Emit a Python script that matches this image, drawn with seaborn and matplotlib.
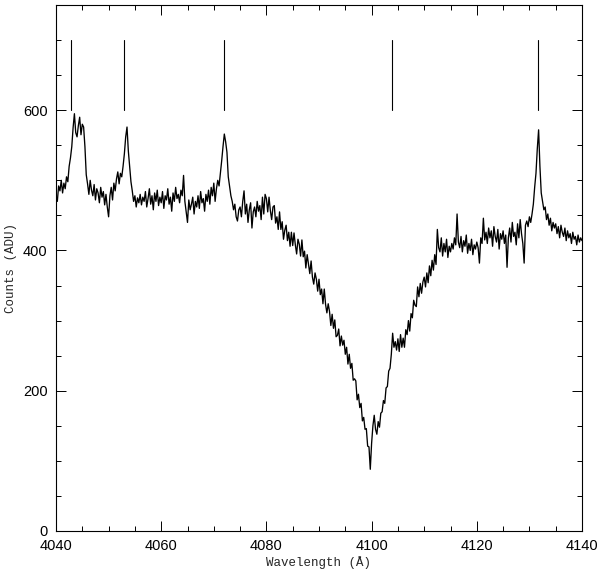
import numpy as np
import pandas as pd
import matplotlib
matplotlib.use("Agg")
import matplotlib.pyplot as plt
import seaborn as sns
from matplotlib.ticker import MultipleLocator

counts = [
    478, 470, 492, 485, 500, 482, 496, 488, 505, 498, 520, 532, 548, 575, 595, 568, 562, 578, 590, 565,
    580, 576, 548, 508, 495, 480, 500, 486, 478, 494, 472, 488, 482, 468, 490, 476, 484, 465, 480, 462,
    448, 478, 490, 472, 496, 485, 502, 512, 495, 510, 505, 520, 538, 562, 576, 542, 520, 498, 485, 470,
    478, 462, 475, 468, 480, 465, 476, 470, 484, 462, 474, 488, 466, 478, 458, 482, 470, 486, 464, 476,
    468, 484, 460, 478, 472, 488, 466, 476, 456, 482, 470, 490, 474, 480, 468, 486, 478, 507, 470, 455,
    440, 472, 458, 466, 476, 452, 470, 462, 478, 460, 484, 468, 474, 456, 480, 470, 486, 466, 490, 478,
    496, 470, 488, 500, 492, 510, 528, 548, 566, 555, 540, 505, 492, 478, 470, 458, 466, 448, 442, 458,
    462, 448, 470, 485, 452, 466, 440, 458, 468, 432, 455, 462, 448, 470, 456, 464, 444, 476, 452, 480,
    474, 455, 476, 457, 444, 462, 464, 439, 448, 430, 455, 430, 441, 416, 429, 436, 414, 426, 406, 426,
    407, 425, 408, 395, 416, 409, 392, 415, 391, 399, 375, 394, 381, 367, 385, 362, 352, 368, 359, 342,
    359, 337, 345, 324, 345, 323, 311, 324, 313, 293, 309, 289, 301, 277, 279, 288, 264, 278, 265, 272,
    252, 262, 238, 252, 232, 239, 215, 217, 214, 187, 195, 176, 182, 157, 162, 145, 146, 121, 120, 88,
    125, 150, 165, 145, 138, 156, 148, 168, 170, 186, 182, 204, 206, 228, 232, 252, 282, 262, 270, 258,
    274, 256, 280, 262, 275, 262, 287, 280, 300, 285, 310, 304, 329, 322, 320, 348, 334, 353, 339, 355,
    362, 348, 368, 354, 378, 364, 386, 372, 394, 380, 430, 404, 398, 418, 392, 410, 398, 416, 390, 406,
    398, 410, 402, 418, 408, 452, 412, 404, 420, 398, 414, 406, 422, 396, 410, 400, 416, 394, 408, 402,
    412, 404, 382, 418, 410, 446, 415, 426, 410, 432, 418, 428, 406, 434, 420, 412, 430, 402, 424, 416,
    428, 410, 422, 376, 418, 432, 412, 440, 420, 426, 408, 438, 418, 444, 424, 410, 382, 436, 442, 434,
    448, 440, 452, 466, 490, 510, 545, 572, 520, 482, 470, 458, 462, 444, 452, 436, 446, 428, 440, 432,
    438, 424, 434, 418, 436, 426, 420, 432, 414, 428, 418, 424, 410, 426, 416, 420, 408, 422, 412, 418,
    414,
]
wl_start, wl_end = 4040.0, 4140.0
wavelength = np.linspace(wl_start, wl_end, len(counts))

# Line identification markers (wavelengths) and their vertical extent
marker_wl = [4042.85, 4053.0, 4072.0, 4103.9, 4131.7]
marker_lo, marker_hi = 600, 700

x_ticks = [4040, 4060, 4080, 4100, 4120, 4140]
y_ticks = [0, 200, 400, 600]

df = pd.DataFrame({"wavelength": wavelength, "counts": counts})

sns.set_style("ticks")
plt.rcParams["font.family"] = ["Liberation Sans", "DejaVu Sans"]

fig = plt.figure(figsize=(6.0, 5.78), dpi=100)
ax = fig.add_axes([56 / 600, 1 - 531 / 578, (582 - 56) / 600, (531 - 5) / 578])

sns.lineplot(data=df, x="wavelength", y="counts", ax=ax, color="black",
             linewidth=0.95, estimator=None, sort=False)

for w in marker_wl:
    ax.plot([w, w], [marker_lo, marker_hi], color="black", linewidth=0.8)

ax.set_xlim(wl_start, wl_end)
ax.set_ylim(0, 750)
ax.set_xticks(x_ticks)
ax.set_yticks(y_ticks)
ax.xaxis.set_minor_locator(MultipleLocator(5))
ax.yaxis.set_minor_locator(MultipleLocator(50))
ax.tick_params(which="both", direction="in", top=True, right=True,
               width=0.7, colors="black", labelsize=10.5, pad=6)
ax.tick_params(which="major", length=7)
ax.tick_params(which="minor", length=3.6)
for s in ax.spines.values():
    s.set_linewidth(0.8)
    s.set_color("black")

ax.set_xlabel("Wavelength (Å)", family=["Liberation Mono", "DejaVu Sans Mono"],
              fontsize=9, labelpad=2)
ax.set_ylabel("Counts (ADU)", family=["Liberation Mono", "DejaVu Sans Mono"],
              fontsize=9, labelpad=4)

fig.savefig("out.png", dpi=100)
